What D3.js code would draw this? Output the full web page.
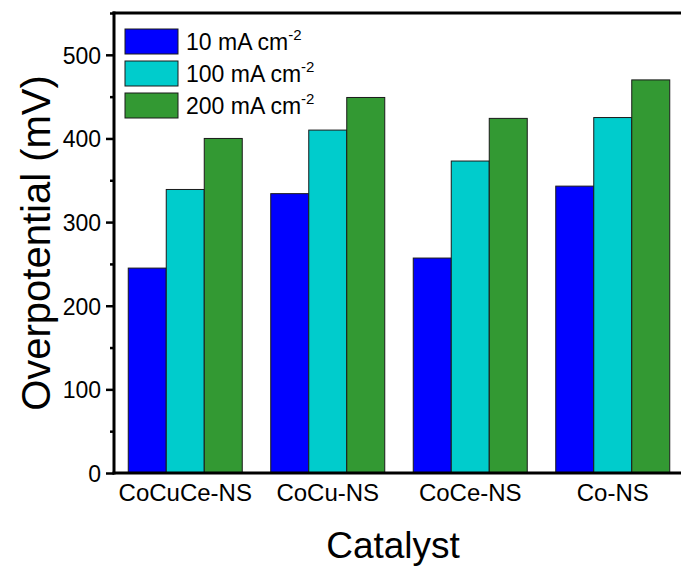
<!DOCTYPE html>
<html>
<head>
<meta charset="utf-8">
<script src="https://cdn.jsdelivr.net/npm/d3@7"></script>
<style>
  body { margin: 0; background: #fff; }
  text { font-family: "Liberation Sans", Arial, sans-serif; fill: #000; }
</style>
</head>
<body>
<div id="chart"></div>
<script>
const w = 681,
      h = 567;

const margin = {top: 13, right: -3, bottom: 94, left: 114};

const catalysts = ["CoCuCe-NS", "CoCu-NS", "CoCe-NS", "Co-NS"];
const seriesNames = ["10 mA cm", "100 mA cm", "200 mA cm"];
const current10 = [245, 334, 257, 343];
const current100 = [339, 410, 373, 425];
const current200 = [400, 449, 424, 470];
const yTicks = [0, 100, 200, 300, 400, 500];
const colors = ["#0000ff", "#00cccc", "#339933"];

const allSeries = [current10, current100, current200];

const svg = d3.select("#chart")
  .append("svg")
  .attr("width", w)
  .attr("height", h);

const iw = w - margin.left - margin.right,
      ih = h - margin.top - margin.bottom;

const g = svg.append("g")
  .attr("transform", "translate(" + margin.left + "," + margin.top + ")");

const x = d3.scaleBand()
  .domain(catalysts)
  .range([0, iw])
  .paddingInner(0.2)
  .paddingOuter(0.1);

const xInner = d3.scaleBand()
  .domain(d3.range(seriesNames.length))
  .range([0, x.bandwidth()]);

const y = d3.scaleLinear()
  .domain([0, 550])
  .range([ih, 0]);

// bars
catalysts.forEach((c, ci) => {
  g.selectAll(null)
    .data(allSeries.map((s, si) => ({si: si, v: s[ci]})))
    .enter()
    .append("rect")
    .attr("x", d => x(c) + xInner(d.si))
    .attr("y", d => y(d.v))
    .attr("width", xInner.bandwidth())
    .attr("height", d => ih - y(d.v))
    .style("fill", d => colors[d.si])
    .style("stroke", "#1a1a1a")
    .style("stroke-width", 1);
});

// minor ticks
g.append("g")
  .call(d3.axisLeft(y).tickValues([50, 150, 250, 350, 450, 550]).tickSize(4).tickFormat(""))
  .call(a => a.select(".domain").remove())
  .selectAll("line").style("stroke-width", 2.5);

// y axis
const yAxisGroup = g.append("g")
  .call(d3.axisLeft(y).tickValues(yTicks).tickSize(8).tickPadding(5));
yAxisGroup.select(".domain").remove();
yAxisGroup.selectAll("line").style("stroke-width", 2.5);
yAxisGroup.selectAll("text")
  .style("font-size", "23px")
  .attr("dy", "0.36em");

g.append("line")
  .attr("x1", 0).attr("x2", 0)
  .attr("y1", -1.5).attr("y2", ih + 1.5)
  .style("stroke", "#000").style("stroke-width", 3);

// x axis
const xAxisGroup = g.append("g")
  .attr("transform", "translate(0," + ih + ")")
  .call(d3.axisBottom(x).tickSize(0).tickPadding(11));
xAxisGroup.select(".domain").remove();
xAxisGroup.selectAll("text")
  .style("font-size", "24px");

g.append("line")
  .attr("x1", -1.5).attr("x2", iw)
  .attr("y1", ih).attr("y2", ih)
  .style("stroke", "#000").style("stroke-width", 3);

// top frame
g.append("line")
  .attr("x1", -1.5).attr("x2", iw)
  .attr("y1", 0).attr("y2", 0)
  .style("stroke", "#000").style("stroke-width", 3);

// axis titles
svg.append("text")
  .attr("transform", "translate(50," + (margin.top + ih / 2) + ") rotate(-90)")
  .attr("text-anchor", "middle")
  .style("font-size", "40px")
  .text("Overpotential (mV)");

svg.append("text")
  .attr("x", margin.left + iw / 2 - 6)
  .attr("y", 558)
  .attr("text-anchor", "middle")
  .style("font-size", "37px")
  .text("Catalyst");

// legend
const legend = svg.append("g")
  .attr("transform", "translate(125,29)");

const items = legend.selectAll("g")
  .data(seriesNames)
  .enter()
  .append("g")
  .attr("transform", (d, i) => "translate(0," + i * 32 + ")");

items.append("rect")
  .attr("width", 53)
  .attr("height", 25)
  .style("fill", (d, i) => colors[i])
  .style("stroke", "#1a1a1a")
  .style("stroke-width", 1);

const lt = items.append("text")
  .attr("x", 61)
  .attr("y", 21)
  .style("font-size", "23px");
lt.append("tspan").text(d => d);
lt.append("tspan")
  .attr("dy", -10)
  .style("font-size", "15px")
  .text("-2");
</script>
</body>
</html>
